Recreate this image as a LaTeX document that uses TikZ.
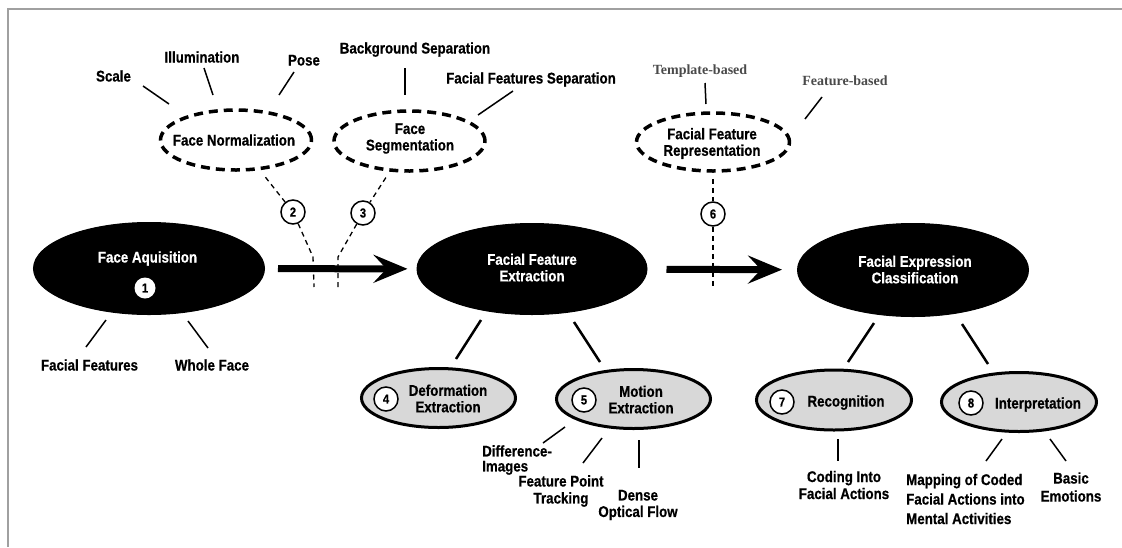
\documentclass[tikz,border=0pt]{standalone}
\usepackage{fontspec}
\setmainfont{Liberation Sans}[FakeStretch=0.86, BoldFeatures={FakeBold=0.6}]
\newfontfamily\tmsb{Liberation Serif}
\usetikzlibrary{shapes.geometric,arrows.meta}
\definecolor{ellgray}{HTML}{D8D8D8}
\definecolor{framegray}{HTML}{A0A0A0}
\definecolor{sergray}{HTML}{4A4A4A}
\begin{document}
\begin{tikzpicture}[x=1pt,y=-1pt,
  lab/.style={font=\bfseries\fontsize{15.5}{16.5}\selectfont, inner sep=0pt, align=center},
  wlab/.style={lab, text=white},
  serlab/.style={font=\tmsb\bfseries\fontsize{14}{16}\selectfont, text=sergray, inner sep=0pt},
  dashell/.style={ellipse, draw=black, line width=3.5pt, dash pattern=on 9pt off 6pt, inner sep=0pt},
  blkell/.style={ellipse, fill=black, draw=black, line width=1pt, inner sep=0pt},
  grell/.style={ellipse, fill=ellgray, draw=black, line width=3pt, inner sep=0pt},
  numc/.style={circle, draw=black, fill=white, line width=1.5pt, minimum size=24pt, inner sep=0pt, font=\bfseries\fontsize{13}{13}\selectfont},
  tick/.style={line width=1.5pt},
  stem/.style={line width=2.5pt},
  thindash/.style={line width=1.3pt, dash pattern=on 5pt off 4pt},
  bigarrow/.style={line width=7pt, -{Stealth[length=34pt,width=28pt,inset=13pt]}}
]
\useasboundingbox (0,0) rectangle (1122,547);
\fill[white] (0,0) rectangle (1122,547);
% frame
\draw[framegray, line width=2pt] (8,547) -- (8,9) -- (1122,9);

% ---- dashed ellipses (top)
\node[dashell, minimum width=151pt, minimum height=60pt] (fn) at (236,140) {};
\node[lab] at (234,140) {Face Normalization};
\node[dashell, minimum width=151pt, minimum height=60pt] (fs) at (409.5,141) {};
\node[lab] at (410,138.5) {Face\\Segmentation};
\node[dashell, minimum width=153pt, minimum height=58pt] (ffr) at (713,142) {};
\node[lab] at (712,143.5) {Facial Feature\\Representation};

% labels above
\node[lab, anchor=base] (scale) at (113.5,81.5) {Scale};
\node[lab, anchor=base] (illum) at (202,62.5) {Illumination};
\node[lab, anchor=base] (pose) at (304,65.5) {Pose};
\node[lab, anchor=base] (bgsep) at (415,53.5) {Background Separation};
\node[lab, anchor=base] (ffsep) at (531,83.5) {Facial Features Separation};
\node[serlab, anchor=base] (templ) at (700,74) {Template-based};
\node[serlab, anchor=base] (featb) at (845,85) {Feature-based};
\draw[tick] (143,86) -- (169,104);
\draw[tick] (204,68) -- (213,95);
\draw[tick] (294,72) -- (279,95);
\draw[tick] (405,68) -- (405,95);
\draw[tick] (513,91) -- (478,115);
\draw[tick] (705,83) -- (706,104);
\draw[tick] (822,97) -- (805,119);

% ---- black ellipses
\node[blkell, minimum width=231pt, minimum height=92pt] (fa) at (149,268.5) {};
\node[wlab, anchor=base] at (147.5,262.5) {Face Aquisition};
\node[circle, fill=white, minimum size=21pt, inner sep=0pt, font=\bfseries\fontsize{13}{13}\selectfont] (n1) at (145,288) {1};
\node[blkell, minimum width=230pt, minimum height=91pt] (ffe) at (532,269) {};
\node[wlab] at (532,267.5) {Facial Feature\\Extraction};
\node[blkell, minimum width=231pt, minimum height=93pt] (fec) at (913,270) {};
\node[wlab] at (915,269.5) {Facial Expression\\Classification};

% ---- main arrows
\draw[bigarrow, shorten <=13pt, shorten >=9pt] (fa) -- (ffe);
\draw[bigarrow, shorten <=19pt, shorten >=15pt] (ffe) -- (fec);

% ---- numbered process steps 2, 3, 6
\node[numc] (n2) at (293,212) {2};
\node[numc] (n3) at (363,213) {3};
\node[numc] (n6) at (713,214) {6};
\coordinate (c2a) at (313,257);
\coordinate (c2b) at (314,287);
\coordinate (c3a) at (338,257);
\coordinate (c3b) at (338,287);
\coordinate (c6b) at (713,287);
\draw[thindash, shorten <=9pt] (fn) -- (n2);
\draw[thindash] (n2) -- (c2a) -- (c2b);
\draw[thindash, shorten <=7pt] (fs) -- (n3);
\draw[thindash] (n3) -- (c3a) -- (c3b);
\draw[thindash, shorten <=6pt] (ffr) -- (n6);
\draw[thindash] (n6) -- (c6b);

% ---- face aquisition sub labels
\draw[tick] (106,320) -- (86,347);
\draw[tick] (188,321) -- (208,348);
\node[lab, anchor=base] (ff) at (89.5,370.5) {Facial Features};
\node[lab, anchor=base] (wf) at (212,370.5) {Whole Face};

% ---- stems to gray ellipses
\draw[stem] (481,320) -- (456,359);
\draw[stem] (574,322) -- (600,362);
\draw[stem] (874,323) -- (848,362);
\draw[stem] (962,324) -- (988,364);

% ---- gray ellipses
\node[grell, minimum width=154pt, minimum height=59pt] (de) at (438.5,398) {};
\node[numc] (n4) at (386,399) {4};
\node[lab] at (448,398.5) {Deformation\\Extraction};
\node[grell, minimum width=154pt, minimum height=59pt] (me) at (633.5,399) {};
\node[numc] (n5) at (584,400) {5};
\node[lab] at (641,399.5) {Motion\\Extraction};
\node[grell, minimum width=155pt, minimum height=60pt] (rec) at (834,400) {};
\node[numc] (n7) at (782,402) {7};
\node[lab, anchor=base] at (846,406.5) {Recognition};
\node[grell, minimum width=155pt, minimum height=59pt] (int) at (1019,402) {};
\node[numc] (n8) at (971,403) {8};
\node[lab, anchor=base] at (1038,408.5) {Interpretation};

% ---- motion extraction sub labels
\draw[tick] (565,427) -- (543,443);
\draw[tick] (602,438) -- (583,463);
\draw[tick] (639,440) -- (639,468);
\node[lab, align=left, anchor=west, font=\bfseries\fontsize{15.5}{15}\selectfont] (di) at (482,460) {Difference-\\Images};
\node[lab, font=\bfseries\fontsize{15.5}{17}\selectfont] (fpt) at (561,491) {Feature Point\\Tracking};
\node[lab] (dof) at (638,505) {Dense\\Optical Flow};

% ---- recognition / interpretation sub labels
\draw[tick] (838,439) -- (838,461);
\draw[tick] (1002,439) -- (986,461);
\draw[tick] (1050,439) -- (1066,461);
\node[lab, font=\bfseries\fontsize{15.5}{17}\selectfont] (cod) at (844,485) {Coding Into\\Facial Actions};
\node[lab, align=left, anchor=west, font=\bfseries\fontsize{15.5}{19.5}\selectfont] (map) at (906,499) {Mapping of Coded\\Facial Actions into\\Mental Activities};
\node[lab, font=\bfseries\fontsize{15.5}{18}\selectfont] (bas) at (1071,487) {Basic\\Emotions};
\end{tikzpicture}
\end{document}
